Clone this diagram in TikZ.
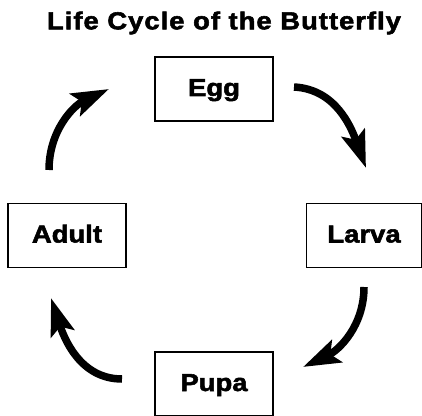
\documentclass[tikz,border=0pt]{standalone}
\usepackage{fontspec}
\setmainfont{Liberation Sans}[FakeStretch=1.12, BoldFeatures={FakeBold=2.2}]
\usetikzlibrary{arrows.meta}
\begin{document}
\begin{tikzpicture}[x=1pt,y=1pt,
    stage/.style={draw, line width=1.1pt, minimum width=118pt, minimum height=64pt, inner sep=0pt,
      text height=17pt, text depth=3pt, font=\fontsize{24.5}{28}\selectfont\bfseries},
    turn/.style={line width=7.5pt, -{Stealth[length=37pt,width=24pt,inset=7pt]}}]
  \useasboundingbox (0,0) rectangle (422,415);
  \node[anchor=base, font=\fontsize{24.5}{28}\selectfont\bfseries\addfontfeatures{LetterSpace=4}] (title) at (224,385.7) {Life Cycle of the Butterfly};
  \node[stage] (egg) at (214,326) {Egg};
  \node[stage, minimum width=115pt] (larva) at (364,179.5) {Larva};
  \node[stage] (pupa) at (214,31) {Pupa};
  \node[stage] (adult) at (67,179.5) {Adult};
  \coordinate (egg-out) at (294,328);
  \coordinate (larva-in) at (366,247);
  \coordinate (larva-out) at (364,128);
  \coordinate (pupa-in) at (303,48);
  \coordinate (pupa-out) at (122,36);
  \coordinate (adult-in) at (51,117);
  \coordinate (adult-out) at (49,245);
  \coordinate (egg-in) at (109,326);
  \draw[turn] (egg-out) to[out=-3, in=110] (larva-in);
  \draw[turn] (larva-out) to[out=-90, in=25] (pupa-in);
  \draw[turn] (pupa-out) to[out=180, in=-72] (adult-in);
  \draw[turn] (adult-out) to[out=90, in=-155] (egg-in);
\end{tikzpicture}
\end{document}
